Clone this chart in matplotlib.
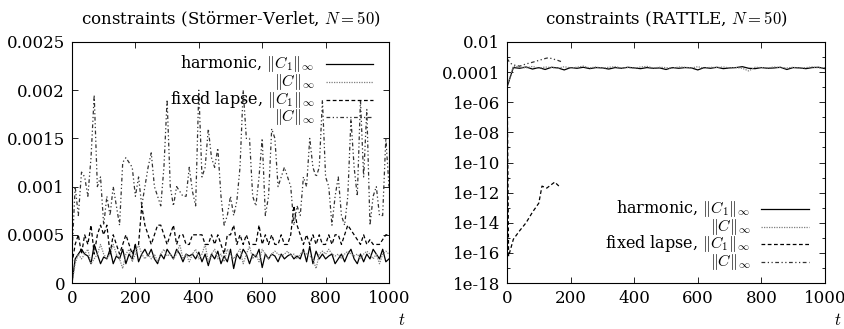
import matplotlib
matplotlib.use("Agg")
import matplotlib.pyplot as plt
import numpy as np

plt.rcParams['font.family'] = ['DejaVu Serif']
plt.rcParams['mathtext.fontset'] = 'cm'
plt.rcParams['font.size'] = 12

# ---------------- data: Störmer-Verlet (left) ----------------
t_sv = list(range(0, 1001, 10))
sv_harm_C1 = [0.0, 0.00025, 0.0003, 0.00035, 0.0003, 0.00028, 0.0002, 0.0004, 0.0003, 0.0002,
              0.00027, 0.00025, 0.00035, 0.0002, 0.00028, 0.00025, 0.00035, 0.0002, 0.0003, 0.00025,
              0.0004, 0.00022, 0.0003, 0.00035, 0.00028, 0.00035, 0.00025, 0.0002, 0.0003, 0.00025,
              0.00035, 0.0003, 0.00025, 0.00035, 0.0003, 0.00022, 0.0003, 0.00028, 0.0003, 0.00025,
              0.00032, 0.00022, 0.0003, 0.00018, 0.0003, 0.00025, 0.00033, 0.0002, 0.00028, 0.00022,
              0.00035, 0.00015, 0.0003, 0.00025, 0.00035, 0.0003, 0.0002, 0.0003, 0.00027, 0.00035,
              0.00016, 0.0003, 0.00025, 0.0003, 0.00028, 0.00022, 0.0003, 0.00025, 0.00028, 0.0003,
              0.00025, 0.00028, 0.00025, 0.00035, 0.00022, 0.00038, 0.0002, 0.00033, 0.00025, 0.0003,
              0.00025, 0.00028, 0.0003, 0.0002, 0.00025, 0.0003, 0.00022, 0.0003, 0.00035, 0.00025,
              0.0002, 0.0003, 0.00022, 0.0003, 0.00025, 0.00035, 0.0003, 0.00025, 0.00035, 0.00022,
              0.00025]
sv_harm_C = [0.0, 0.0002, 0.0003, 0.00025, 0.0003, 0.00035, 0.0002, 0.00025, 0.0003, 0.0004,
             0.0003, 0.00025, 0.0003, 0.0004, 0.0003, 0.00025, 0.00015, 0.0003, 0.00035, 0.00022,
             0.0003, 0.0004, 0.0003, 0.00025, 0.0003, 0.00025, 0.0003, 0.00022, 0.0003, 0.00035,
             0.00028, 0.0003, 0.00025, 0.0003, 0.0004, 0.00025, 0.0003, 0.00022, 0.0003, 0.00035,
             0.00025, 0.0003, 0.0004, 0.00022, 0.0003, 0.00035, 0.00025, 0.0003, 0.00022, 0.00035,
             0.0003, 0.00025, 0.0003, 0.00035, 0.0002, 0.0003, 0.00038, 0.00025, 0.0003, 0.00022,
             0.00035, 0.0003, 0.00025, 0.0003, 0.00033, 0.0003, 0.00028, 0.0003, 0.00033, 0.00028,
             0.0003, 0.00025, 0.0003, 0.00033, 0.0003, 0.00028, 0.00025, 0.00015, 0.0003, 0.00033,
             0.0003, 0.00035, 0.0003, 0.00028, 0.0003, 0.00025, 0.0003, 0.00033, 0.0003, 0.00028,
             0.0003, 0.00025, 0.0003, 0.00033, 0.0003, 0.00025, 0.0003, 0.0002, 0.0003, 0.00033,
             0.0003]
sv_fixed_C1 = [0.0002, 0.0004, 0.0005, 0.0003, 0.0005, 0.0004, 0.0006, 0.0003, 0.0005, 0.0006,
               0.0005, 0.0006, 0.0003, 0.0005, 0.0004, 0.0003, 0.0004, 0.0005, 0.0004, 0.0003,
               0.0004, 0.0004, 0.0008, 0.0006, 0.0005, 0.0004, 0.0005, 0.0006, 0.0006, 0.0005,
               0.0004, 0.0005, 0.0006, 0.0004, 0.0005, 0.0005, 0.0004, 0.0004, 0.0005, 0.0005,
               0.0005, 0.0005, 0.0004, 0.0004, 0.0005, 0.0004, 0.0005, 0.0004, 0.0003, 0.0005,
               0.0005, 0.0006, 0.0004, 0.0005, 0.0004, 0.0005, 0.0004, 0.0004, 0.0004, 0.0006,
               0.0004, 0.0005, 0.0004, 0.0005, 0.0004, 0.0004, 0.0005, 0.0004, 0.0004, 0.0005,
               0.0008, 0.0006, 0.0005, 0.0004, 0.0005, 0.0004, 0.0005, 0.0004, 0.0005, 0.0004,
               0.0004, 0.0005, 0.0004, 0.0005, 0.0005, 0.0004, 0.0005, 0.0006, 0.00055, 0.0005,
               0.00045, 0.0004, 0.0005, 0.0004, 0.00045, 0.0004, 0.0004, 0.0004, 0.00045, 0.0005,
               0.0005]
sv_fixed_C = [0.0003, 0.0010, 0.0007, 0.00115, 0.0011, 0.0009, 0.0013, 0.00195, 0.0010, 0.0011,
              0.0006, 0.0009, 0.0007, 0.0010, 0.0008, 0.0006, 0.00125, 0.0013, 0.00125, 0.0012,
              0.0009, 0.0011, 0.0008, 0.0010, 0.0012, 0.00135, 0.0010, 0.0009, 0.0008, 0.0012,
              0.0019, 0.0010, 0.0008, 0.0010, 0.00095, 0.0009, 0.0009, 0.0012, 0.00095, 0.0008,
              0.0020, 0.0011, 0.0012, 0.0016, 0.0013, 0.0012, 0.0014, 0.0009, 0.0006, 0.0007,
              0.0009, 0.0007, 0.00085, 0.0012, 0.0020, 0.0015, 0.0015, 0.0009, 0.0008, 0.0011,
              0.0015, 0.0007, 0.0009, 0.0016, 0.0015, 0.0010, 0.0011, 0.0012, 0.0011, 0.0010,
              0.0006, 0.0008, 0.0007, 0.0011, 0.0010, 0.0015, 0.0012, 0.0011, 0.0012, 0.0019,
              0.0011, 0.0010, 0.0006, 0.0009, 0.0011, 0.0007, 0.0006, 0.0009, 0.0017, 0.0012,
              0.0009, 0.0019, 0.0011, 0.0018, 0.0006, 0.0009, 0.0010, 0.0007, 0.0007, 0.0015,
              0.0010]

# ---------------- data: RATTLE (right) ----------------
t_ra = list(range(0, 1001, 20))
ra_harm_C1 = [1e-5, 2.0e-4, 1.8e-4, 2.2e-4, 1.6e-4, 2.0e-4, 1.5e-4, 2.1e-4, 1.9e-4, 1.4e-4,
              2.0e-4, 1.8e-4, 2.1e-4, 1.7e-4, 2.0e-4, 1.9e-4, 1.6e-4, 2.0e-4, 1.8e-4, 2.1e-4,
              1.9e-4, 1.7e-4, 2.0e-4, 1.8e-4, 1.9e-4, 1.5e-4, 2.0e-4, 1.8e-4, 2.0e-4, 1.9e-4,
              1.4e-4, 2.0e-4, 1.8e-4, 2.1e-4, 1.7e-4, 1.9e-4, 2.0e-4, 2.3e-4, 1.8e-4, 1.7e-4,
              2.0e-4, 1.8e-4, 1.9e-4, 2.1e-4, 1.5e-4, 2.0e-4, 1.9e-4, 1.7e-4, 2.0e-4, 2.1e-4,
              1.7e-4]
ra_harm_C = [1e-5, 2.5e-4, 2.2e-4, 1.9e-4, 2.4e-4, 1.8e-4, 2.2e-4, 2.0e-4, 1.8e-4, 2.3e-4,
             1.9e-4, 2.1e-4, 2.5e-4, 1.9e-4, 2.2e-4, 1.8e-4, 2.1e-4, 2.3e-4, 1.9e-4, 2.0e-4,
             1.8e-4, 2.2e-4, 2.4e-4, 1.9e-4, 2.1e-4, 2.0e-4, 1.8e-4, 2.2e-4, 2.1e-4, 1.9e-4,
             2.3e-4, 1.8e-4, 2.1e-4, 2.0e-4, 2.2e-4, 1.9e-4, 2.0e-4, 1.8e-4, 1.2e-4, 2.1e-4,
             2.0e-4, 1.9e-4, 2.2e-4, 2.0e-4, 1.9e-4, 2.1e-4, 1.8e-4, 2.0e-4, 2.2e-4, 1.9e-4,
             2.0e-4]
t_ra_fixed = [0, 5, 20, 40, 60, 80, 100, 110, 125, 150, 165]
ra_fixed_C1 = [3e-4, 6e-17, 8e-16, 3e-15, 1e-14, 5e-14, 2e-13, 2.7e-12, 2e-12, 5e-12, 2.5e-12]
t_ra_fixed_C = [0, 10, 20, 40, 60, 80, 100, 120, 130, 140, 160, 170]
ra_fixed_C = [8e-4, 4e-4, 3e-4, 2.5e-4, 3.5e-4, 4.5e-4, 6e-4, 8e-4, 9e-4, 8e-4, 6e-4, 5e-4]

sv_yticks = [0, 0.0005, 0.001, 0.0015, 0.002, 0.0025]
sv_yticklabels = ['0', '0.0005', '0.001', '0.0015', '0.002', '0.0025']
ra_yticks = [1e-18, 1e-16, 1e-14, 1e-12, 1e-10, 1e-8, 1e-6, 1e-4, 1e-2]
ra_yticklabels = ['1e-18', '1e-16', '1e-14', '1e-12', '1e-10', '1e-08', '1e-06', '0.0001', '0.01']
xticks = [0, 200, 400, 600, 800, 1000]

labels = ['harmonic, $\\|C_1\\|_\\infty$', '$\\|C\\|_\\infty$',
          'fixed lapse, $\\|C_1\\|_\\infty$', '$\\|C\\|_\\infty$']

styles = [dict(color='black', ls='-', lw=0.9),
          dict(color='#7f7f7f', ls=(0, (1, 1)), lw=0.9),
          dict(color='black', ls=(0, (3, 2)), lw=0.9),
          dict(color='#333333', ls=(0, (3, 2, 1, 2, 1, 2)), lw=0.9)]

fig = plt.figure(figsize=(8.45, 3.29), dpi=100)
ax1 = fig.add_axes([72/845, 46/329, 317/845, 241/329])
ax2 = fig.add_axes([507/845, 46/329, 318/845, 241/329])

for t, y, st in zip([t_sv]*4, [sv_harm_C1, sv_harm_C, sv_fixed_C1, sv_fixed_C], styles):
    ax1.plot(t, y, **st)
for t, y, st in zip([t_ra, t_ra, t_ra_fixed, t_ra_fixed_C],
                    [ra_harm_C1, ra_harm_C, ra_fixed_C1, ra_fixed_C], styles):
    ax2.plot(t, y, **st)

ax1.set_xlim(0, 1000)
ax1.set_ylim(0, 0.0025)
ax1.set_yticks(sv_yticks)
ax1.set_yticklabels(sv_yticklabels)
ax1.set_title('constraints (Störmer-Verlet, $N=50$)', pad=13, fontsize=12)

ax2.set_yscale('log')
ax2.set_xlim(0, 1000)
ax2.set_ylim(1e-18, 1e-2)
ax2.set_yticks(ra_yticks)
ax2.set_yticklabels(ra_yticklabels)
ax2.yaxis.set_minor_locator(matplotlib.ticker.FixedLocator([10.0**e for e in range(-17, -2, 2)]))
ax2.yaxis.set_minor_formatter(matplotlib.ticker.NullFormatter())
ax2.set_title('constraints (RATTLE, $N=50$)', pad=13, fontsize=12)

leg_y = {ax1: [0.909, 0.834, 0.76, 0.689], ax2: [0.308, 0.233, 0.162, 0.088]}
for ax in (ax1, ax2):
    ax.set_xticks(xticks)
    ax.set_xticklabels([str(v) for v in xticks])
    ax.tick_params(direction='in', top=True, right=True, length=4, width=0.6, labelsize=12, pad=5)
    ax.tick_params(which='minor', direction='in', right=True, length=2.5, width=0.6)
    for sp in ax.spines.values():
        sp.set_linewidth(0.8)
    ax.text(1.04, -0.155, '$t$', transform=ax.transAxes, ha='center', va='center', fontsize=12)
    for yy, lab, st in zip(leg_y[ax], labels, styles):
        ax.text(0.765, yy, lab, transform=ax.transAxes, ha='right', va='center', fontsize=11.5)
        ax.plot([0.80, 0.95], [yy, yy], transform=ax.transAxes, **st)

fig.savefig('out.png', dpi=100)
